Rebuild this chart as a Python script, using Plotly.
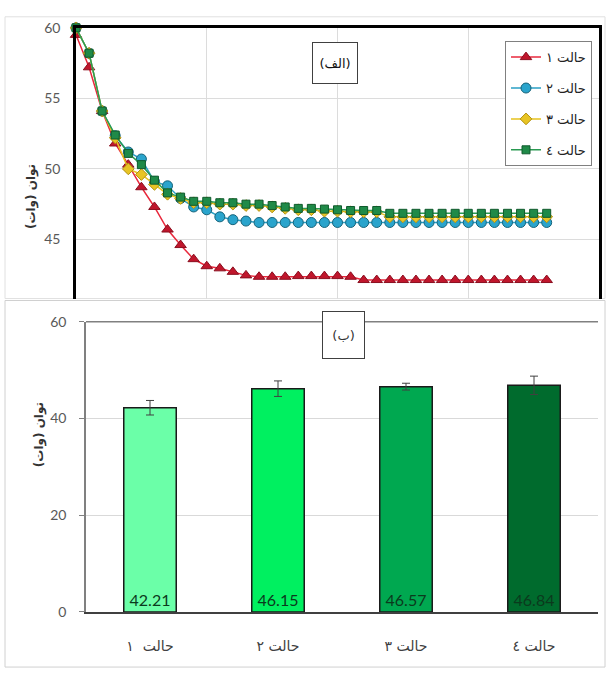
import plotly.graph_objects as go

# ---------- data ----------
steps = list(range(37))
case1 = [59.5, 57.2, 54.1, 51.8, 50.3, 48.7, 47.3, 45.7, 44.6, 43.6, 43.1, 42.95, 42.7, 42.45,
         42.35, 42.35, 42.35, 42.4, 42.4, 42.4, 42.4, 42.35, 42.12, 42.12, 42.12, 42.12, 42.12,
         42.12, 42.12, 42.12, 42.12, 42.12, 42.12, 42.12, 42.12, 42.12, 42.12]
case2 = [60.0, 58.2, 54.1, 52.35, 51.2, 50.7, 49.1, 48.8, 47.9, 47.3, 47.1, 46.6, 46.4, 46.3,
         46.2, 46.2, 46.2, 46.2, 46.2, 46.2, 46.2, 46.2, 46.2, 46.2, 46.2, 46.2, 46.2,
         46.2, 46.2, 46.2, 46.2, 46.2, 46.2, 46.2, 46.2, 46.2, 46.2]
case3 = [60.0, 58.2, 54.1, 52.2, 50.0, 49.6, 48.9, 48.2, 47.9, 47.6, 47.6, 47.5, 47.5, 47.4,
         47.4, 47.3, 47.2, 47.1, 47.1, 47.0, 47.0, 46.95, 46.95, 46.95, 46.6, 46.6, 46.6,
         46.6, 46.6, 46.6, 46.6, 46.6, 46.6, 46.6, 46.6, 46.6, 46.6]
case4 = [60.0, 58.2, 54.1, 52.4, 51.1, 50.3, 49.2, 48.3, 48.0, 47.7, 47.7, 47.6, 47.6, 47.5,
         47.5, 47.4, 47.3, 47.2, 47.2, 47.15, 47.1, 47.05, 47.05, 47.05, 46.85, 46.85, 46.85,
         46.85, 46.85, 46.85, 46.85, 46.85, 46.85, 46.85, 46.85, 46.85, 46.85]

series_names = ["حالت ١", "حالت ٢", "حالت ٣", "حالت ٤"]
bar_categories = ["حالت  ١", "حالت ٢", "حالت ٣", "حالت ٤"]
bar_means = [42.21, 46.15, 46.57, 46.84]
bar_errors = [1.5, 1.6, 0.7, 1.9]
bar_labels = ["42.21", "46.15", "46.57", "46.84"]
y_title = "توان (وات)"
panel_a = "(الف)"
panel_b = "(ب)"

W, H = 610, 677
def px(x): return x / W
def py(y): return 1 - y / H

ARFONT = "DejaVu Sans"
NUMFONT = "Lato"

fig = go.Figure()

styles = [
    dict(line=dict(color="#e8283c", width=1.5),
         marker=dict(symbol="triangle-up", size=10, color="#c0162c",
                     line=dict(color="#8a0f1f", width=1))),
    dict(line=dict(color="#2a9fc4", width=1.5),
         marker=dict(symbol="circle", size=10, color="#2aa4cc",
                     line=dict(color="#16637a", width=1))),
    dict(line=dict(color="#e6c21e", width=1.5),
         marker=dict(symbol="diamond", size=9, color="#e8c424",
                     line=dict(color="#b39212", width=1))),
    dict(line=dict(color="#2a9a52", width=1.5),
         marker=dict(symbol="square", size=8, color="#1f8a48",
                     line=dict(color="#0f5a2c", width=1))),
]
for name, ys, st in zip(series_names, [case1, case2, case3, case4], styles):
    fig.add_trace(go.Scatter(x=steps, y=ys, name=name, mode="lines+markers",
                             line=st["line"], marker=st["marker"], cliponaxis=False,
                             legendgroup=name, xaxis="x", yaxis="y"))

fig.add_trace(go.Bar(
    x=bar_categories, y=bar_means, text=bar_labels, showlegend=False,
    marker=dict(color=["#6BFFA8", "#00F060", "#00A850", "#006B2D"],
                line=dict(color="#1a1a1a", width=1.5)),
    error_y=dict(type="data", array=bar_errors, color="#404040", thickness=1, width=4),
    textposition="inside", insidetextanchor="start", textangle=0,
    constraintext="none",
    insidetextfont=dict(family=NUMFONT, size=16, color="#0b3a1d"),
    width=0.41, xaxis="x2", yaxis="y2"))

fig.update_layout(
    width=W, height=H, margin=dict(l=0, r=0, t=0, b=0),
    paper_bgcolor="white", plot_bgcolor="white",
    showlegend=True,
    legend=dict(x=px(505), y=py(33), xanchor="left", yanchor="top",
                bgcolor="white", bordercolor="#808080", borderwidth=1,
                font=dict(family=ARFONT, size=13, color="#222"),
                tracegroupgap=11, itemwidth=30),
    xaxis=dict(domain=[px(76), px(599)], range=[0, 40], dtick=10, side="top",
               showgrid=True, gridcolor="#dcdcdc", showticklabels=False,
               showline=True, linecolor="black", linewidth=2.5, zeroline=False),
    yaxis=dict(domain=[py(297), py(19.3)], range=[60 - (297 - 19.3) / 14.47, 60],
               tickvals=[45, 50, 55, 60], showgrid=True, gridcolor="#dcdcdc",
               showline=True, mirror=True, linecolor="black", linewidth=2.5,
               zeroline=False, ticklabelstandoff=10,
               tickfont=dict(family=NUMFONT, size=14, color="#595959")),
    xaxis2=dict(domain=[px(86), px(598)], anchor="y2", showgrid=False,
                showline=True, linecolor="#404040", linewidth=1.5,
                ticklabelstandoff=20,
                tickfont=dict(family=ARFONT, size=14, color="#404040")),
    yaxis2=dict(domain=[py(618.5), py(320.7)], anchor="x2", range=[0, 60], dtick=20,
                showgrid=True, gridcolor="#d9d9d9", showline=True,
                linecolor="#808080", linewidth=1.5, ticks="outside", ticklen=5,
                tickcolor="#808080", zeroline=False, ticklabelstandoff=10,
                tickfont=dict(family=NUMFONT, size=14, color="#595959")),
    bargap=0.59,
    shapes=[
        dict(type="rect", xref="paper", yref="paper", x0=px(5), x1=px(605),
             y0=py(297), y1=py(8), line=dict(color="#e0e0e0", width=1), layer="below"),
        dict(type="rect", xref="paper", yref="paper", x0=px(5), x1=px(605),
             y0=py(675), y1=py(299), line=dict(color="#d0d0d0", width=1), layer="below"),
        dict(type="line", xref="paper", yref="paper", x0=px(86), x1=px(598),
             y0=py(320.7), y1=py(320.7), line=dict(color="#808080", width=1.5)),
    ],
    annotations=[
        dict(text=panel_a, x=px(335), y=py(34), xref="paper", yref="paper",
             showarrow=False, bgcolor="white", bordercolor="#404040", borderwidth=1,
             width=32, height=28, borderpad=6,
             font=dict(family=ARFONT, size=13, color="#111")),
        dict(text=panel_b, x=px(343), y=py(334), xref="paper", yref="paper",
             showarrow=False, bgcolor="white", bordercolor="#404040", borderwidth=1,
             width=27, height=32, borderpad=7,
             font=dict(family=ARFONT, size=13, color="#333")),
        dict(text="<b>" + y_title + "</b>", x=px(22), y=py(157), xref="paper", yref="paper",
             showarrow=False, textangle=-90, font=dict(family=ARFONT, size=12, color="#333")),
        dict(text="<b>" + y_title + "</b>", x=px(30), y=py(472), xref="paper", yref="paper",
             showarrow=False, textangle=-90, font=dict(family=ARFONT, size=12, color="#333")),
    ],
)

fig.write_html("out.html", config={"displayModeBar": False},
               post_script="document.body.style.margin='0';document.body.style.overflow='hidden';")
